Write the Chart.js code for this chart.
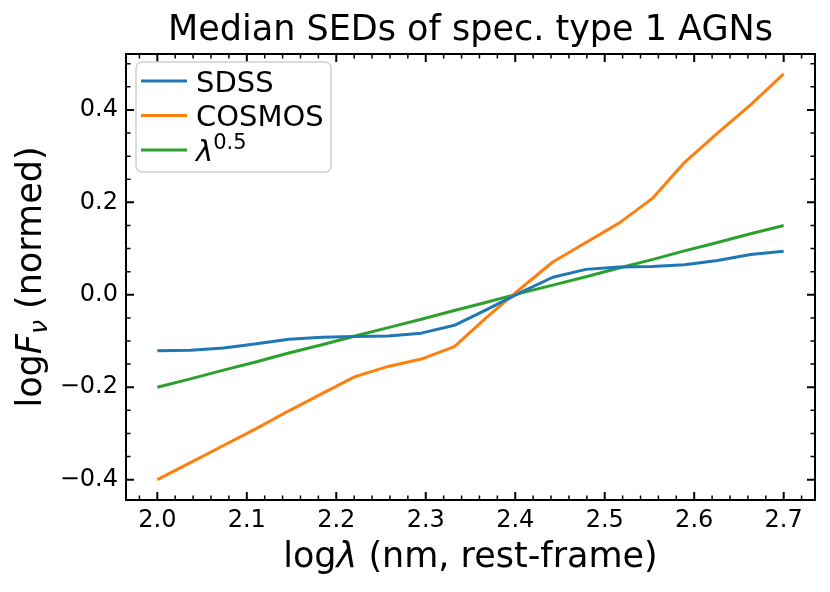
<!DOCTYPE html>
<html>
<head>
<meta charset="utf-8">
<script src="https://cdn.jsdelivr.net/npm/chart.js@4"></script>
<style>
  html, body { margin: 0; padding: 0; background: #fff; }
  canvas { display: block; }
</style>
</head>
<body>
<canvas id="sedChart" width="830" height="592"></canvas>
<script>
// log wavelength grid (nm, rest-frame)
const logLambda = [2.000, 2.037, 2.074, 2.111, 2.147, 2.184, 2.221, 2.258, 2.295, 2.332,
                   2.368, 2.405, 2.442, 2.479, 2.516, 2.553, 2.589, 2.626, 2.663, 2.700];
const sdss = [-0.121, -0.120, -0.115, -0.106, -0.096, -0.092, -0.090, -0.089, -0.083, -0.066,
              -0.032, 0.004, 0.038, 0.055, 0.060, 0.061, 0.065, 0.074, 0.087, 0.094];
const cosmos = [-0.400, -0.363, -0.326, -0.289, -0.251, -0.214, -0.177, -0.155, -0.139, -0.112,
                -0.049, 0.012, 0.071, 0.113, 0.155, 0.208, 0.286, 0.350, 0.411, 0.478];
const powerLaw = [-0.200, -0.182, -0.163, -0.145, -0.126, -0.108, -0.089, -0.071, -0.053, -0.034,
                  -0.016, 0.003, 0.021, 0.039, 0.058, 0.076, 0.095, 0.113, 0.132, 0.150];

const seriesNames = ['SDSS', 'COSMOS', 'λ^0.5'];
const seriesColors = ['#1f77b4', '#ff7f0e', '#2ca02c'];

const xTickLabels = [2.0, 2.1, 2.2, 2.3, 2.4, 2.5, 2.6, 2.7];
const yTickLabels = [-0.4, -0.2, 0.0, 0.2, 0.4];

const FONT = '"DejaVu Sans", "Liberation Sans", sans-serif';

function toPoints(ys) {
  return logLambda.map((x, i) => ({ x: x, y: ys[i] }));
}

// draw a list of text runs [{text, font, dy}] starting at x
function runsWidth(ctx, runs) {
  let w = 0;
  runs.forEach(r => { ctx.font = r.font; w += ctx.measureText(r.text).width; });
  return w;
}
function drawRuns(ctx, runs, x, y) {
  let cx = x;
  runs.forEach(r => {
    ctx.font = r.font;
    ctx.fillText(r.text, cx, y + (r.dy || 0));
    cx += ctx.measureText(r.text).width;
  });
}

// matplotlib-like frame, inward ticks, axis labels and legend
const axesDecor = {
  id: 'axesDecor',
  afterDraw(chart) {
    const ctx = chart.ctx;
    const a = chart.chartArea;
    const xs = chart.scales.x, ys = chart.scales.y;
    ctx.save();
    ctx.strokeStyle = '#000';

    // ticks
    const tick = (px, len, w, vertical) => {
      ctx.lineWidth = w;
      ctx.beginPath();
      if (vertical) {
        ctx.moveTo(px, a.bottom); ctx.lineTo(px, a.bottom - len);
        ctx.moveTo(px, a.top); ctx.lineTo(px, a.top + len);
      } else {
        ctx.moveTo(a.left, px); ctx.lineTo(a.left + len, px);
        ctx.moveTo(a.right, px); ctx.lineTo(a.right - len, px);
      }
      ctx.stroke();
    };
    for (let v = 1.98; v <= xs.max + 1e-9; v += 0.02) {
      if (v < xs.min) continue;
      const major = Math.abs(v * 10 - Math.round(v * 10)) < 1e-6;
      tick(xs.getPixelForValue(v), major ? 8 : 4.5, major ? 2 : 1.5, true);
    }
    for (let v = -0.45; v <= ys.max + 1e-9; v += 0.05) {
      if (v < ys.min) continue;
      const major = Math.abs(v * 5 - Math.round(v * 5)) < 1e-6;
      tick(ys.getPixelForValue(v), major ? 8 : 4.5, major ? 2 : 1.5, false);
    }

    // frame
    ctx.lineWidth = 2;
    ctx.strokeRect(a.left, a.top, a.right - a.left, a.bottom - a.top);

    ctx.fillStyle = '#000';
    ctx.textBaseline = 'alphabetic';

    // x label
    const xRuns = [
      { text: 'log', font: '35px ' + FONT },
      { text: 'λ', font: 'italic 35px ' + FONT },
      { text: ' (nm, rest-frame)', font: '35px ' + FONT }
    ];
    const xw = runsWidth(ctx, xRuns);
    drawRuns(ctx, xRuns, (a.left + a.right) / 2 - xw / 2, 567);

    // y label
    const yRuns = [
      { text: 'log', font: '35px ' + FONT },
      { text: 'F', font: 'italic 35px ' + FONT },
      { text: 'ν', font: 'italic 25px ' + FONT, dy: 6 },
      { text: ' (normed)', font: '35px ' + FONT }
    ];
    const yw = runsWidth(ctx, yRuns);
    ctx.save();
    ctx.translate(41, (a.top + a.bottom) / 2);
    ctx.rotate(-Math.PI / 2);
    drawRuns(ctx, yRuns, -yw / 2, 0);
    ctx.restore();

    // legend
    const lx = 136, ly = 62, lw = 195, lh = 110, r = 6;
    ctx.beginPath();
    ctx.moveTo(lx + r, ly);
    ctx.arcTo(lx + lw, ly, lx + lw, ly + lh, r);
    ctx.arcTo(lx + lw, ly + lh, lx, ly + lh, r);
    ctx.arcTo(lx, ly + lh, lx, ly, r);
    ctx.arcTo(lx, ly, lx + lw, ly, r);
    ctx.closePath();
    ctx.fillStyle = 'rgba(255,255,255,0.8)';
    ctx.fill();
    ctx.strokeStyle = '#d0d0d0';
    ctx.lineWidth = 1.5;
    ctx.stroke();

    chart.data.datasets.forEach((ds, i) => {
      const rowY = 81 + i * 34.5;
      ctx.strokeStyle = ds.borderColor;
      ctx.lineWidth = 3;
      ctx.beginPath();
      ctx.moveTo(141, rowY);
      ctx.lineTo(187, rowY);
      ctx.stroke();
      ctx.fillStyle = '#000';
      const parts = ds.label.split('^');
      const runs = [{ text: parts[0], font: (parts.length > 1 ? 'italic ' : '') + '29px ' + FONT }];
      if (parts.length > 1) runs.push({ text: parts[1], font: '21px ' + FONT, dy: -12 });
      drawRuns(ctx, runs, 196, rowY + 10.5);
    });

    ctx.restore();
  }
};

const ctx = document.getElementById('sedChart').getContext('2d');
new Chart(ctx, {
  type: 'line',
  data: {
    datasets: [sdss, cosmos, powerLaw].map((ys, i) => ({
      label: seriesNames[i],
      data: toPoints(ys),
      borderColor: seriesColors[i],
      backgroundColor: seriesColors[i],
      borderWidth: 3,
      pointRadius: 0,
      tension: 0,
      fill: false,
      borderJoinStyle: 'round'
    }))
  },
  options: {
    responsive: false,
    animation: false,
    devicePixelRatio: 1,
    layout: { padding: { left: 0, right: 15, top: 0, bottom: 0 } },
    plugins: {
      legend: { display: false },
      tooltip: { enabled: false },
      title: {
        display: true,
        text: 'Median SEDs of spec. type 1 AGNs',
        color: '#000',
        fullSize: false,
        font: { family: FONT, size: 35, weight: 'normal', lineHeight: 1.2 },
        padding: { top: 10, bottom: 2 }
      }
    },
    scales: {
      x: {
        type: 'linear',
        min: 1.965,
        max: 2.735,
        grid: { display: false, drawTicks: false },
        border: { display: false },
        afterBuildTicks: s => { s.ticks = xTickLabels.map(v => ({ value: v })); },
        afterFit: s => { s.height = 92; },
        ticks: {
          color: '#000',
          padding: 6,
          maxRotation: 0,
          autoSkip: false,
          font: { family: FONT, size: 24 },
          callback: v => v.toFixed(1)
        }
      },
      y: {
        type: 'linear',
        min: -0.444,
        max: 0.521,
        grid: { display: false, drawTicks: false },
        border: { display: false },
        afterBuildTicks: s => { s.ticks = yTickLabels.map(v => ({ value: v })); },
        afterFit: s => { s.width = 126; },
        ticks: {
          color: '#000',
          padding: 8,
          autoSkip: false,
          font: { family: FONT, size: 24 },
          callback: v => (v < -1e-9 ? '\u2212' : '') + Math.abs(v).toFixed(1)
        }
      }
    }
  },
  plugins: [axesDecor]
});
</script>
</body>
</html>
